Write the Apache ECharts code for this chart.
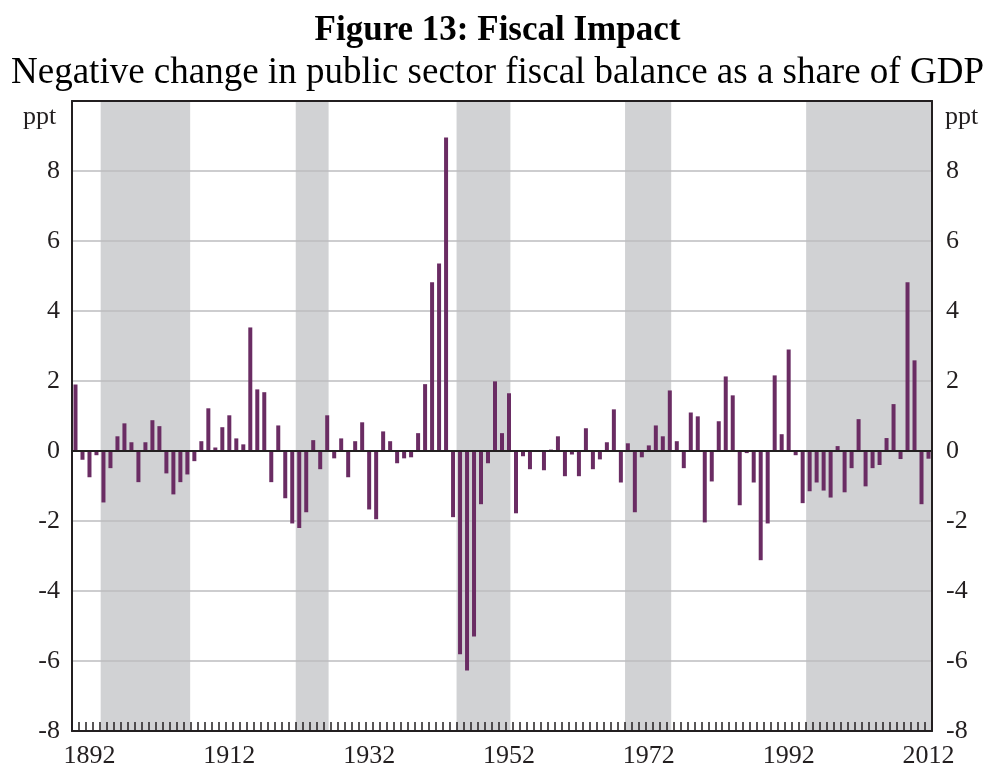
<!DOCTYPE html>
<html>
<head>
<meta charset="utf-8">
<script src="https://cdn.jsdelivr.net/npm/echarts@6/dist/echarts.min.js"></script>
<style>
  html, body { margin: 0; padding: 0; background: #fff; }
  #chart { width: 995px; height: 773px; }
</style>
</head>
<body>
<div id="chart"></div>
<script>
// one bar per year, 1890 .. 2012
var firstYear = 1890;
var lastYear = 2012;
var years = [];
for (var y = firstYear; y <= lastYear; y++) years.push(String(y));

// negative change in fiscal balance, ppt of GDP
var fiscalImpact = [
  1.9, -0.25, -0.75, -0.12, -1.47, -0.49, 0.42, 0.79, 0.25, -0.89,   // 1890-1899
  0.25, 0.88, 0.71, -0.64, -1.24, -0.89, -0.67, -0.29, 0.28, 1.22,   // 1900-1909
  0.1, 0.68, 1.02, 0.36, 0.19, 3.53, 1.76, 1.68, -0.89, 0.73,        // 1910-1919
  -1.35, -2.07, -2.2, -1.75, 0.31, -0.52, 1.02, -0.21, 0.36, -0.75,  // 1920-1929
  0.28, 0.82, -1.67, -1.95, 0.56, 0.28, -0.35, -0.21, -0.18, 0.51,   // 1930-1939
  1.91, 4.82, 5.36, 8.96, -1.89, -5.81, -6.27, -5.3, -1.52, -0.35,   // 1940-1949
  1.99, 0.51, 1.65, -1.78, -0.15, -0.52, 0, -0.55, 0.04, 0.42,       // 1950-1959
  -0.72, -0.1, -0.72, 0.65, -0.52, -0.24, 0.25, 1.19, -0.9, 0.22,    // 1960-1969
  -1.75, -0.18, 0.16, 0.73, 0.42, 1.73, 0.28, -0.49, 1.1, 0.99,      // 1970-1979
  -2.04, -0.87, 0.85, 2.13, 1.59, -1.55, -0.06, -0.9, -3.12, -2.07,  // 1980-1989
  2.16, 0.48, 2.9, -0.12, -1.49, -1.15, -0.9, -1.13, -1.33, 0.14,    // 1990-1999
  -1.18, -0.49, 0.91, -1.01, -0.49, -0.4, 0.37, 1.34, -0.23, 4.82,   // 2000-2009
  2.59, -1.52, -0.22                                                 // 2010-2012
];

// shaded periods (year positions, half-years are band edges)
var shadedPeriods = [
  [1893.6, 1906.4],
  [1921.5, 1926.2],
  [1944.5, 1952.2],
  [1968.6, 1975.2],
  [1994.5, 2012.5]
];

var yTicks = [-8, -6, -4, -2, 0, 2, 4, 6, 8];

var serif = 'Liberation Serif';
var ink = '#231f20';

var chart = echarts.init(document.getElementById('chart'), null, { renderer: 'canvas' });

function yLabel(v) {
  return yTicks.indexOf(v) >= 0 ? String(v) : '';
}

var option = {
  backgroundColor: '#ffffff',
  animation: false,
  title: [
    {
      text: 'Figure 13: Fiscal Impact',
      left: 'center',
      top: 8,
      textStyle: { fontFamily: serif, fontSize: 35, fontWeight: 'bold', color: '#000' }
    },
    {
      text: 'Negative change in public sector fiscal balance as a share of GDP',
      left: 'center',
      top: 50,
      textStyle: { fontFamily: serif, fontSize: 37, fontWeight: 'normal', color: '#000' }
    }
  ],
  graphic: [
    {
      type: 'text', left: 23, top: 104,
      style: { text: 'ppt', font: '26px "Liberation Serif"', fill: ink }
    },
    {
      type: 'text', left: 945, top: 104,
      style: { text: 'ppt', font: '26px "Liberation Serif"', fill: ink }
    }
  ],
  grid: { left: 72, right: 63, top: 101, bottom: 42 },
  xAxis: [
    {
      type: 'category',
      data: years,
      position: 'bottom',
      boundaryGap: true,
      z: 2,
      axisLine: { onZero: false, lineStyle: { color: ink, width: 2 } },
      axisTick: { show: true, inside: true, length: 9, interval: 0, lineStyle: { color: ink, width: 1.5 } },
      axisLabel: {
        interval: function (idx, val) { return (Number(val) - 1892) % 20 === 0; },
        fontFamily: serif, fontSize: 26, color: ink, margin: 12
      },
      splitLine: { show: false }
    },
    {
      type: 'value',
      position: 'top',
      min: firstYear - 0.5,
      max: lastYear + 0.5,
      z: 2,
      axisLine: { show: true, onZero: false, lineStyle: { color: ink, width: 2 } },
      axisTick: { show: false },
      axisLabel: { show: false },
      splitLine: { show: false }
    }
  ],
  yAxis: [
    {
      type: 'value',
      min: -8, max: 10, interval: 2,
      position: 'left',
      z: 2,
      axisLine: { show: true, onZero: false, lineStyle: { color: ink, width: 2 } },
      axisTick: { show: false },
      axisLabel: { formatter: yLabel, fontFamily: serif, fontSize: 26, color: ink, margin: 12 },
      splitLine: { show: true, lineStyle: { color: '#bcbcbf', width: 1.5 } }
    },
    {
      type: 'value',
      min: -8, max: 10, interval: 2,
      position: 'right',
      z: 2,
      axisLine: { show: true, onZero: false, lineStyle: { color: ink, width: 2 } },
      axisTick: { show: false },
      axisLabel: { formatter: yLabel, fontFamily: serif, fontSize: 26, color: ink, margin: 14 },
      splitLine: { show: false }
    }
  ],
  series: [
    {
      name: 'shading',
      type: 'line',
      xAxisIndex: 1,
      yAxisIndex: 0,
      data: [],
      silent: true,
      z: 0,
      markArea: {
        silent: true,
        z: 0,
        itemStyle: { color: '#d1d2d4' },
        data: shadedPeriods.map(function (p) {
          return [{ xAxis: p[0] }, { xAxis: p[1] }];
        })
      }
    },
    {
      name: 'Fiscal impact',
      type: 'bar',
      xAxisIndex: 0,
      yAxisIndex: 0,
      data: fiscalImpact,
      barWidth: 4,
      itemStyle: { color: '#6a2c63' },
      z: 3,
      markLine: {
        silent: true,
        symbol: 'none',
        z: 4,
        label: { show: false },
        lineStyle: { color: ink, width: 2, type: 'solid' },
        data: [{ yAxis: 0 }]
      }
    }
  ]
};

chart.setOption(option);
</script>
</body>
</html>
